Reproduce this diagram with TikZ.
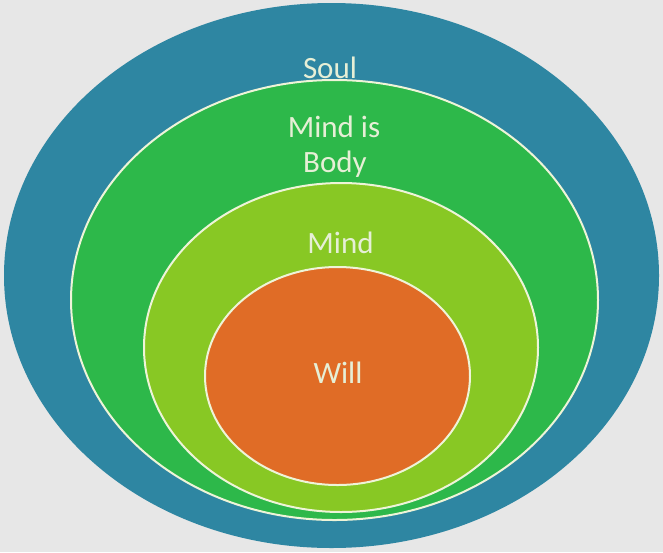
\documentclass[tikz,border=0pt]{standalone}
\usepackage{fontspec}
\setmainfont{Carlito}
\definecolor{bggray}{HTML}{E7E7E7}
\definecolor{soulc}{HTML}{2E86A2}
\definecolor{bodyc}{HTML}{2DB84A}
\definecolor{mindc}{HTML}{88C824}
\definecolor{willc}{HTML}{E06C26}
\definecolor{rimc}{HTML}{EEF4D8}
\definecolor{txtc}{HTML}{E6EFD6}
\begin{document}
\begin{tikzpicture}[x=1pt,y=-1pt,
  ring/.style={draw=rimc,line width=2pt},
  lbl/.style={text=txtc,font=\fontsize{31}{35}\selectfont,anchor=base,inner sep=0pt,align=center}]
\fill[bggray] (0,0) rectangle (663,552);
\useasboundingbox (0,0) rectangle (663,552);
\fill[soulc] (331.5,275.5) ellipse [x radius=327.5,y radius=272.5];
\filldraw[fill=bodyc,ring] (334.5,300) ellipse [x radius=263.5,y radius=220];
\filldraw[fill=mindc,ring] (341,347.5) ellipse [x radius=197,y radius=164.5];
\filldraw[fill=willc,ring] (337.5,376) ellipse [x radius=132.5,y radius=109];
\node[lbl] (soul) at (330,78) {Soul};
\node[lbl] (mindis) at (334,137) {Mind is};
\node[lbl] (body) at (335,172) {Body};
\node[lbl] (mind) at (340.5,253) {Mind};
\node[lbl] (will) at (338,383) {Will};
\end{tikzpicture}
\end{document}
